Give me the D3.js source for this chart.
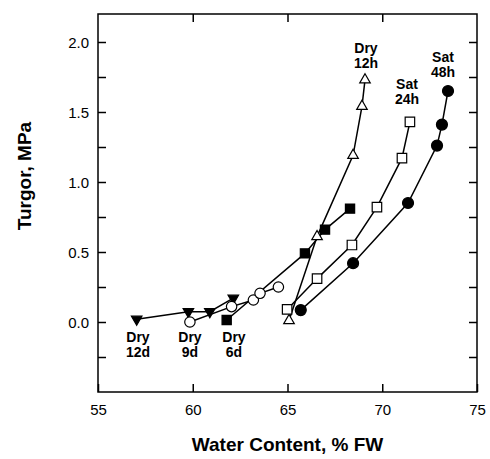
<!DOCTYPE html>
<html lang="en">
<head>
<meta charset="utf-8">
<title>Turgor vs water content</title>
<script src="https://cdnjs.cloudflare.com/ajax/libs/d3/7.8.5/d3.min.js"></script>
<style>
  body { margin: 0; background: #fff; }
  text { font-family: "Liberation Sans", Arial, sans-serif; fill: #000; }
</style>
</head>
<body>
<div id="chart"></div>
<script>
  // values
  const dry12hX = [65.08, 66.56, 68.46, 68.93, 69.09];
  const dry12hY = [0.01, 0.61, 1.19, 1.54, 1.73];
  const sat24hX = [64.98, 66.56, 68.40, 69.72, 71.04, 71.46];
  const sat24hY = [0.09, 0.31, 0.55, 0.82, 1.17, 1.43];
  const sat48hX = [65.70, 68.46, 71.36, 72.89, 73.15, 73.47];
  const sat48hY = [0.085, 0.42, 0.85, 1.26, 1.41, 1.65];
  const dry6dX = [61.79, 65.92, 66.98, 68.30];
  const dry6dY = [0.014, 0.49, 0.66, 0.81];
  const dry9dX = [59.85, 62.05, 63.20, 63.55, 64.52];
  const dry9dY = [0.0, 0.11, 0.157, 0.205, 0.25];
  const dry12dX = [57.04, 59.77, 60.90, 62.14];
  const dry12dY = [0.02, 0.074, 0.074, 0.17];

  const xTicks = [55, 60, 65, 70, 75];
  const yTicks = [-0.25, 0, 0.25, 0.5, 0.75, 1, 1.25, 1.5, 1.75, 2];
  const yLabelTicks = [0, 0.5, 1, 1.5, 2];

  const width = 490, height = 459;
  const mLeft = 98, mRight = 477, mTop = 14, mBottom = 392;

  const svg = d3.select("#chart").append("svg")
    .attr("width", width).attr("height", height);

  const x = d3.scaleLinear().domain([55, 75]).range([mLeft, mRight]);
  const y = d3.scaleLinear().domain([-0.5, 2.2]).range([mBottom, mTop]);

  // frame
  svg.append("rect")
    .attr("x", mLeft).attr("y", mTop)
    .attr("width", mRight - mLeft).attr("height", mBottom - mTop)
    .attr("fill", "none").attr("stroke", "#000").attr("stroke-width", 1.5);

  const fmt = d => yLabelTicks.includes(d) ? d3.format(".1f")(d) : "";

  const axL = svg.append("g").attr("transform", `translate(${mLeft},0)`)
    .call(d3.axisLeft(y).tickValues(yTicks).tickSize(-8).tickPadding(9).tickFormat(fmt));
  const axR = svg.append("g").attr("transform", `translate(${mRight},0)`)
    .call(d3.axisRight(y).tickValues(yTicks).tickSize(-8).tickFormat(""));
  const axB = svg.append("g").attr("transform", `translate(0,${mBottom})`)
    .call(d3.axisBottom(x).tickValues(xTicks).tickSize(-8).tickPadding(12).tickFormat(d3.format("d")));
  const axT = svg.append("g").attr("transform", `translate(0,${mTop})`)
    .call(d3.axisTop(x).tickValues(xTicks.slice(1, -1)).tickSize(-8).tickFormat(""));

  [axL, axR, axB, axT].forEach(g => {
    g.select(".domain").remove();
    g.selectAll(".tick line").attr("stroke", "#000").attr("stroke-width", 1.5);
    g.selectAll("text").style("font-family", "'Liberation Sans', Arial, sans-serif")
      .style("font-size", "15px").attr("fill", "#000");
  });
  axL.selectAll("text").attr("dy", "0.36em");

  // axis titles
  svg.append("text")
    .attr("x", (mLeft + mRight) / 2).attr("y", 451)
    .attr("text-anchor", "middle")
    .style("font-size", "19px").style("font-weight", "bold")
    .text("Water Content, % FW");
  svg.append("text")
    .attr("transform", `translate(31,176) rotate(-90)`)
    .attr("text-anchor", "middle")
    .style("font-size", "19px").style("font-weight", "bold")
    .text("Turgor, MPa");

  const series = [
    { xs: dry6dX, ys: dry6dY, shape: d3.symbolSquare, size: 85, rot: 0, fill: "#000" },
    { xs: dry12dX, ys: dry12dY, shape: d3.symbolTriangle, size: 48, rot: 180, fill: "#000" },
    { xs: dry9dX, ys: dry9dY, shape: d3.symbolCircle, size: 85, rot: 0, fill: "#fff" },
    { xs: dry12hX, ys: dry12hY, shape: d3.symbolTriangle, size: 48, rot: 0, fill: "#fff" },
    { xs: sat24hX, ys: sat24hY, shape: d3.symbolSquare, size: 90, rot: 0, fill: "#fff" },
    { xs: sat48hX, ys: sat48hY, shape: d3.symbolCircle, size: 95, rot: 0, fill: "#000" }
  ];

  const line = d3.line().x(d => x(d[0])).y(d => y(d[1]));

  series.forEach(s => {
    const pts = s.xs.map((v, i) => [v, s.ys[i]]);
    svg.append("path").datum(pts)
      .attr("d", line)
      .attr("fill", "none").attr("stroke", "#000").attr("stroke-width", 1.5);
  });
  series.forEach(s => {
    const pts = s.xs.map((v, i) => [v, s.ys[i]]);
    svg.append("g").selectAll("path").data(pts).join("path")
      .attr("d", d3.symbol().type(s.shape).size(s.size))
      .attr("transform", d => `translate(${x(d[0])},${y(d[1])}) rotate(${s.rot})`)
      .attr("fill", s.fill).attr("stroke", "#000").attr("stroke-width", 1.2);
  });

  // series labels
  const labels = [
    { t: ["Dry", "12h"], cx: 366, y0: 53 },
    { t: ["Sat", "24h"], cx: 407, y0: 89 },
    { t: ["Sat", "48h"], cx: 443, y0: 62 },
    { t: ["Dry", "12d"], cx: 138, y0: 342 },
    { t: ["Dry", "9d"], cx: 190, y0: 342 },
    { t: ["Dry", "6d"], cx: 234, y0: 342 }
  ];
  labels.forEach(l => {
    const tx = svg.append("text").attr("text-anchor", "middle")
      .style("font-size", "14px").style("font-weight", "bold");
    l.t.forEach((s, i) => tx.append("tspan").attr("x", l.cx).attr("y", l.y0 + i * 15).text(s));
  });
</script>
</body>
</html>
